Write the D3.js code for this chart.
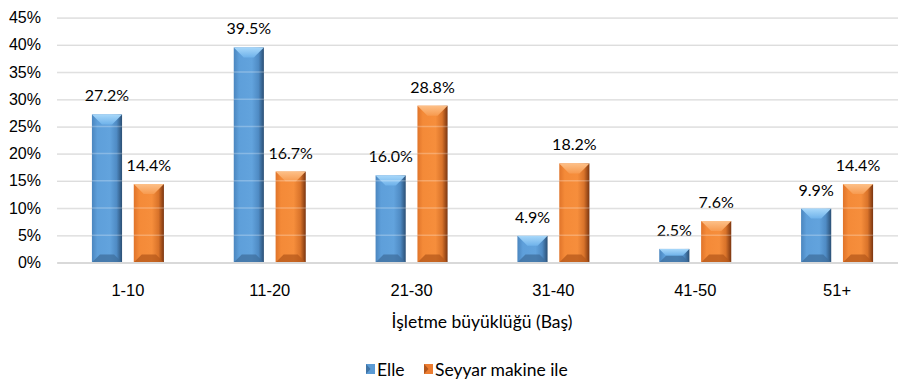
<!DOCTYPE html>
<html><head><meta charset="utf-8">
<script src="https://cdn.jsdelivr.net/npm/d3@7"></script>
<style>body{margin:0;background:#fff}svg{display:block;font-family:Lato,"Noto Sans",sans-serif}</style>
</head><body><svg id="c" width="898" height="380"></svg>
<script>
const categories = ["1-10","11-20","21-30","31-40","41-50","51+"];
const elle = [27.2,39.5,16.0,4.9,2.5,9.9];
const seyyar = [14.4,16.7,28.8,18.2,7.6,14.4];
const seriesNames = ["Elle","Seyyar makine ile"];
const yTicks = [0,5,10,15,20,25,30,35,40,45];

const svg = d3.select("#c");
const x = d3.scaleBand().domain(categories).range([57,908]).paddingInner(0).paddingOuter(0);
const xs = d3.scaleBand().domain([0,1]).range([x.bandwidth()/2-36, x.bandwidth()/2+36]).paddingInner(0.28).paddingOuter(0);
const y = d3.scaleLinear().domain([0,45]).range([262.5,17.5]);

const yAxis = d3.axisLeft(y).tickValues(yTicks).tickFormat(d=>d+"%").tickSize(-851);
const gy = svg.append("g").attr("transform","translate(57,0)").call(yAxis);
gy.select(".domain").remove();
gy.selectAll(".tick line").attr("stroke","#d9d9d9").attr("stroke-width",1.5);
gy.selectAll(".tick text").attr("x",-16).attr("font-size",16).attr("fill","#000");

const palettes = [
  {stops:["#4b86bf","#5e9fda","#62a3dd","#4f8bc4","#2b4f74"], top:["#a8d8fa","#6fb2ea"], bottom:"#3f6f9e", main:"#5b9bd5", dark:"#2e5a85"},
  {stops:["#e0742a","#f48a38","#f68e3c","#d9732a","#7a3510"], top:["#fdc088","#f79a4f"], bottom:"#b5581b", main:"#ed7d31", dark:"#8a3e10"}
];
const defs = svg.append("defs");
palettes.forEach((p,i)=>{
  const g = defs.append("linearGradient").attr("id","g"+i).attr("x1",0).attr("x2",1).attr("y1",0).attr("y2",0);
  [0,0.18,0.6,0.82,1].forEach((o,k)=>g.append("stop").attr("offset",o).attr("stop-color",p.stops[k]));
  const t = defs.append("linearGradient").attr("id","t"+i).attr("x1",0).attr("x2",0).attr("y1",0).attr("y2",1);
  t.append("stop").attr("offset",0).attr("stop-color",p.top[0]);
  t.append("stop").attr("offset",1).attr("stop-color",p.top[1]);
});

const data = [];
categories.forEach((c,i)=>{
  [elle[i],seyyar[i]].forEach((v,s)=>data.push({c,v,s}));
});

const bars = svg.append("g");
data.forEach(d=>{
  const p = palettes[d.s];
  const x0 = x(d.c)+xs(d.s), w = xs.bandwidth();
  const y0 = y(d.v), y1 = y(0), h = y1-y0;
  const b = Math.min(10, w/2, h/2);
  const bb = Math.min(8, h/2);
  const g = bars.append("g");
  g.append("rect").attr("x",x0).attr("y",y0).attr("width",w).attr("height",h).attr("fill",`url(#g${d.s})`);
  g.append("polygon").attr("points",[[x0,y0],[x0+w,y0],[x0+w-b,y0+b],[x0+b,y0+b]].join(" ")).attr("fill",`url(#t${d.s})`);
  g.append("polygon").attr("points",[[x0,y1],[x0+w,y1],[x0+w-bb,y1-bb],[x0+bb,y1-bb]].join(" ")).attr("fill",p.bottom).attr("opacity",0.75);
  g.append("text").attr("x",x0+w/2).attr("y",y0-13).attr("text-anchor","middle").attr("font-size",16).attr("fill","#000").text(d.v.toFixed(1)+"%");
});

svg.append("g").selectAll("line").data(yTicks.filter(t=>t>0)).join("line")
  .attr("x1",57).attr("x2",908).attr("y1",d=>y(d)).attr("y2",d=>y(d))
  .attr("stroke","#ffffff").attr("stroke-opacity",0.25).attr("stroke-width",1.5);

const xAxis = d3.axisBottom(x).tickSize(0);
const gx = svg.append("g").attr("transform",`translate(0,${y(0)})`).call(xAxis);
gx.select(".domain").attr("stroke","#d9d9d9").attr("stroke-width",2);
gx.selectAll(".tick text").attr("dy",0).attr("y",33).attr("font-size",16.5).attr("fill","#000");

svg.append("text").attr("x",482).attr("y",328).attr("text-anchor","middle").attr("font-size",17.5).text("İşletme büyüklüğü (Baş)");

const legend = svg.append("g");
const lx = [366,424];
seriesNames.forEach((n,i)=>{
  const p = palettes[i];
  legend.append("rect").attr("x",lx[i]).attr("y",364).attr("width",9).attr("height",10).attr("fill",p.main);
  legend.append("polygon").attr("points",[[lx[i],364],[lx[i]+4.5,369],[lx[i],374]].join(" ")).attr("fill",p.dark).attr("opacity",0.6);
  legend.append("text").attr("x",lx[i]+11).attr("y",375.5).attr("font-size",17.5).text(n);
});
</script></body></html>
